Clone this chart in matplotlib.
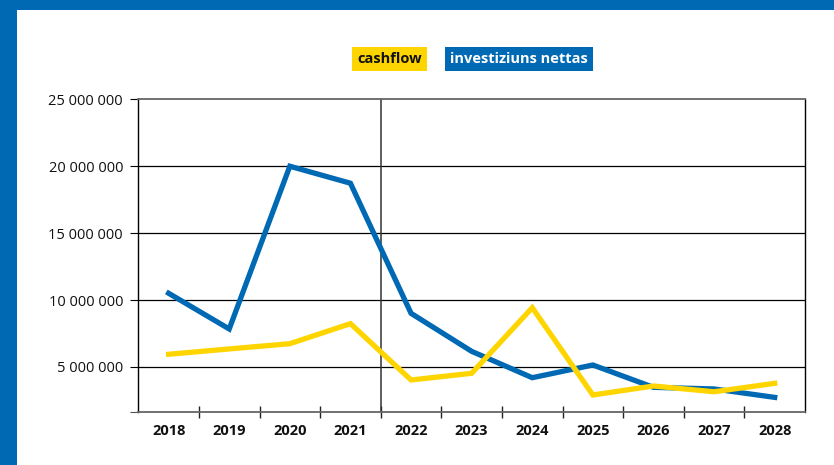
import matplotlib
matplotlib.use("Agg")
import matplotlib.pyplot as plt
from matplotlib.patches import Rectangle
from matplotlib.ticker import FuncFormatter, FixedLocator

years = ["2018", "2019", "2020", "2021", "2022", "2023", "2024", "2025", "2026", "2027", "2028"]
cashflow = [5.95e6, 6.35e6, 6.74e6, 8.24e6, 4.03e6, 4.53e6, 9.43e6, 2.91e6, 3.58e6, 3.15e6, 3.78e6]
investiziuns = [10.51e6, 7.84e6, 20.0e6, 18.73e6, 9.01e6, 6.17e6, 4.2e6, 5.15e6, 3.48e6, 3.36e6, 2.73e6]
y_ticks = [5e6, 10e6, 15e6, 20e6, 25e6]
series_names = ["cashflow", "investiziuns nettas"]

BLUE = "#0069B4"
YELLOW = "#FFD500"
FONT = "Open Sans"

plt.rcParams["font.family"] = [FONT, "DejaVu Sans"]

fig = plt.figure(figsize=(8.34, 4.65), dpi=100)
fig.patch.set_facecolor("white")

# blue frame bars (top and left)
fig.add_artist(Rectangle((0, 1 - 10 / 465), 1, 10 / 465, transform=fig.transFigure,
                         facecolor=BLUE, edgecolor="none", zorder=0))
fig.add_artist(Rectangle((0, 0), 17 / 834, 1, transform=fig.transFigure,
                         facecolor=BLUE, edgecolor="none", zorder=0))

left, right = 138.3 / 834, 805 / 834
top, bottom = 1 - 99.3 / 465, 1 - 411.7 / 465
ax = fig.add_axes([left, bottom, right - left, top - bottom])

x = list(range(len(years)))
ax.plot(x, investiziuns, color=BLUE, lw=3.8, solid_joinstyle="miter", zorder=3)
ax.plot(x, cashflow, color=YELLOW, lw=3.8, solid_joinstyle="miter", zorder=4)

ax.set_xlim(-0.5, len(years) - 0.5)
ax.set_ylim(1.66e6, 25e6)

# y axis
ax.yaxis.set_major_locator(FixedLocator(y_ticks))
ax.yaxis.set_major_formatter(FuncFormatter(lambda v, p: f"{int(v):,}".replace(",", " ")))
ax.yaxis.set_minor_locator(FixedLocator([1.66e6]))
ax.tick_params(axis="y", which="both", direction="out", length=6, width=0.8,
               colors="black", labelsize=10.5, pad=5)
ax.tick_params(axis="y", which="minor", color="#555555")
for t in ax.get_yticklabels():
    t.set_color("#111111")

# x axis: labels at centers, ticks at boundaries
ax.set_xticks(x)
ax.set_xticklabels(years, fontweight="bold", fontsize=10.5)
ax.tick_params(axis="x", which="major", length=0, pad=8.5, labelcolor="#111111")
ax.set_xticks([i + 0.5 for i in range(len(years) - 1)], minor=True)
ax.tick_params(axis="x", which="minor", direction="inout", length=8, width=1.0, color="#222222")

# grid
for v in y_ticks[:-1]:
    ax.axhline(v, color="black", lw=0.9, zorder=1)

# divider between 2021 and 2022
ax.axvline(3.5, color="#333333", lw=1.1, zorder=2)

for s in ["left", "right"]:
    ax.spines[s].set_color("black")
    ax.spines[s].set_linewidth(1.0)
for s in ["top", "bottom"]:
    ax.spines[s].set_color("#666666")
    ax.spines[s].set_linewidth(1.3)

# legend
ly = 1 - 59.3 / 465
fig.text(389.9 / 834, ly, series_names[0], ha="center", va="center", fontsize=10.5,
         fontweight="bold", color="#111111",
         bbox=dict(boxstyle="square,pad=0.35", facecolor=YELLOW, edgecolor="none"))
fig.text(518.9 / 834, ly, series_names[1], ha="center", va="center", fontsize=10.5,
         fontweight="bold", color="white",
         bbox=dict(boxstyle="square,pad=0.35", facecolor=BLUE, edgecolor="none"))

fig.savefig("out.png", dpi=100, facecolor="white")
